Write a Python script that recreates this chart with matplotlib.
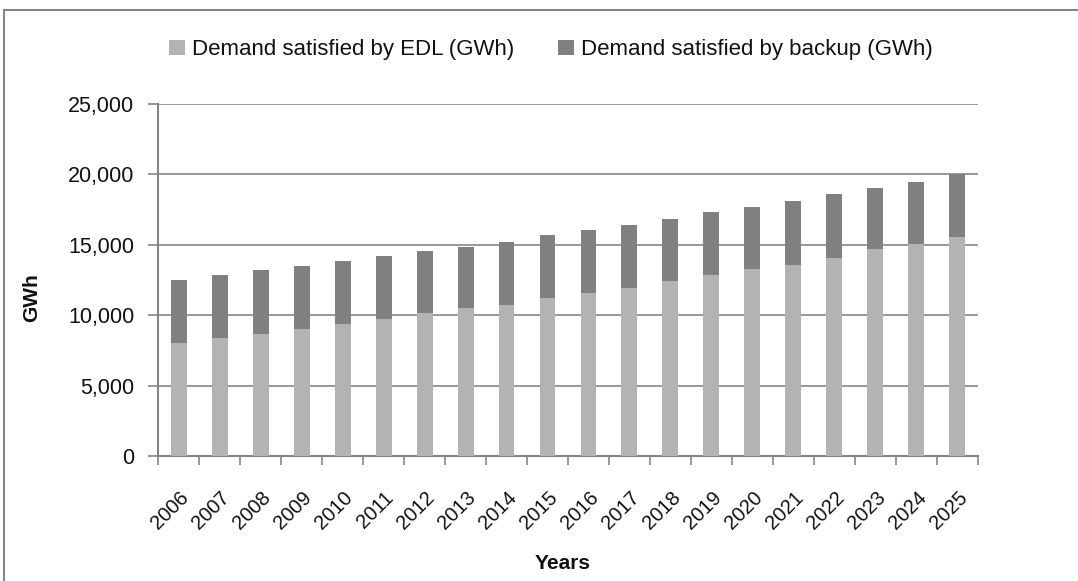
import numpy as np
import matplotlib.pyplot as plt
from matplotlib.patches import Rectangle

# Dados
anos = [str(a) for a in range(2006, 2026)]
edl = [8000, 8350, 8700, 9050, 9350, 9700, 10130, 10480, 10700, 11200,
       11550, 11900, 12400, 12830, 13250, 13600, 14100, 14670, 15030, 15530]
total = [12480, 12830, 13180, 13470, 13820, 14180, 14530, 14820, 15170, 15670,
         16020, 16380, 16800, 17300, 17660, 18080, 18580, 19000, 19430, 20050]
backup = [t - e for t, e in zip(total, edl)]

plt.rcParams['font.family'] = ['Liberation Sans', 'DejaVu Sans']
cor_texto = '#111111'

fig = plt.figure(figsize=(10.78, 5.81), dpi=100)
ax = fig.add_axes([0.1466, 0.215, 0.7606, 0.606])

x = np.arange(len(anos))
ax.bar(x, edl, width=0.39, color='#b3b3b3', label='Demand satisfied by EDL (GWh)', zorder=3)
ax.bar(x, backup, width=0.39, bottom=edl, color='#808080', label='Demand satisfied by backup (GWh)', zorder=3)

ax.set_xlim(-0.5, len(anos) - 0.5)
ax.set_ylim(0, 25000)
ax.set_yticks(range(0, 25001, 5000))
ax.set_yticklabels(['{:,}'.format(v) for v in range(0, 25001, 5000)], fontsize=15.5, color=cor_texto)
ax.yaxis.grid(True, color='#868686', linewidth=1.2, zorder=0)

ax.set_xticks(x)
ax.set_xticklabels(anos, rotation=45, ha='right', rotation_mode='anchor', fontsize=14.5, color=cor_texto)
ax.set_xticks(np.arange(-0.5, len(anos)), minor=True)
ax.tick_params(axis='x', which='major', length=0, pad=23)
ax.tick_params(axis='x', which='minor', length=6.5, color='#868686', width=1.2)
ax.tick_params(axis='y', length=7, color='#868686', width=1.2, pad=10)

for s in ['top', 'right']:
    ax.spines[s].set_visible(False)
for s in ['left', 'bottom']:
    ax.spines[s].set_color('#868686')
    ax.spines[s].set_linewidth(1.5)

ax.set_ylabel('GWh', fontsize=15, fontweight='bold', color=cor_texto)
ax.yaxis.set_label_coords(-0.143, 0.45)
ax.set_xlabel('Years', fontsize=15, fontweight='bold', color=cor_texto)
ax.xaxis.set_label_coords(0.493, -0.277)

fig.legend(loc='center', bbox_to_anchor=(0.511, 0.914), ncol=2, frameon=False,
           fontsize=16, handlelength=0.7, handleheight=0.7, handletextpad=0.3,
           columnspacing=2.0, labelcolor=cor_texto)

# Moldura do gráfico
fig.add_artist(Rectangle((4 / 1078, -0.1), 1.2, 1.1 - 10 / 581, transform=fig.transFigure,
                         fill=False, edgecolor='#868686', linewidth=1.5))

fig.savefig('out.png', dpi=100)
